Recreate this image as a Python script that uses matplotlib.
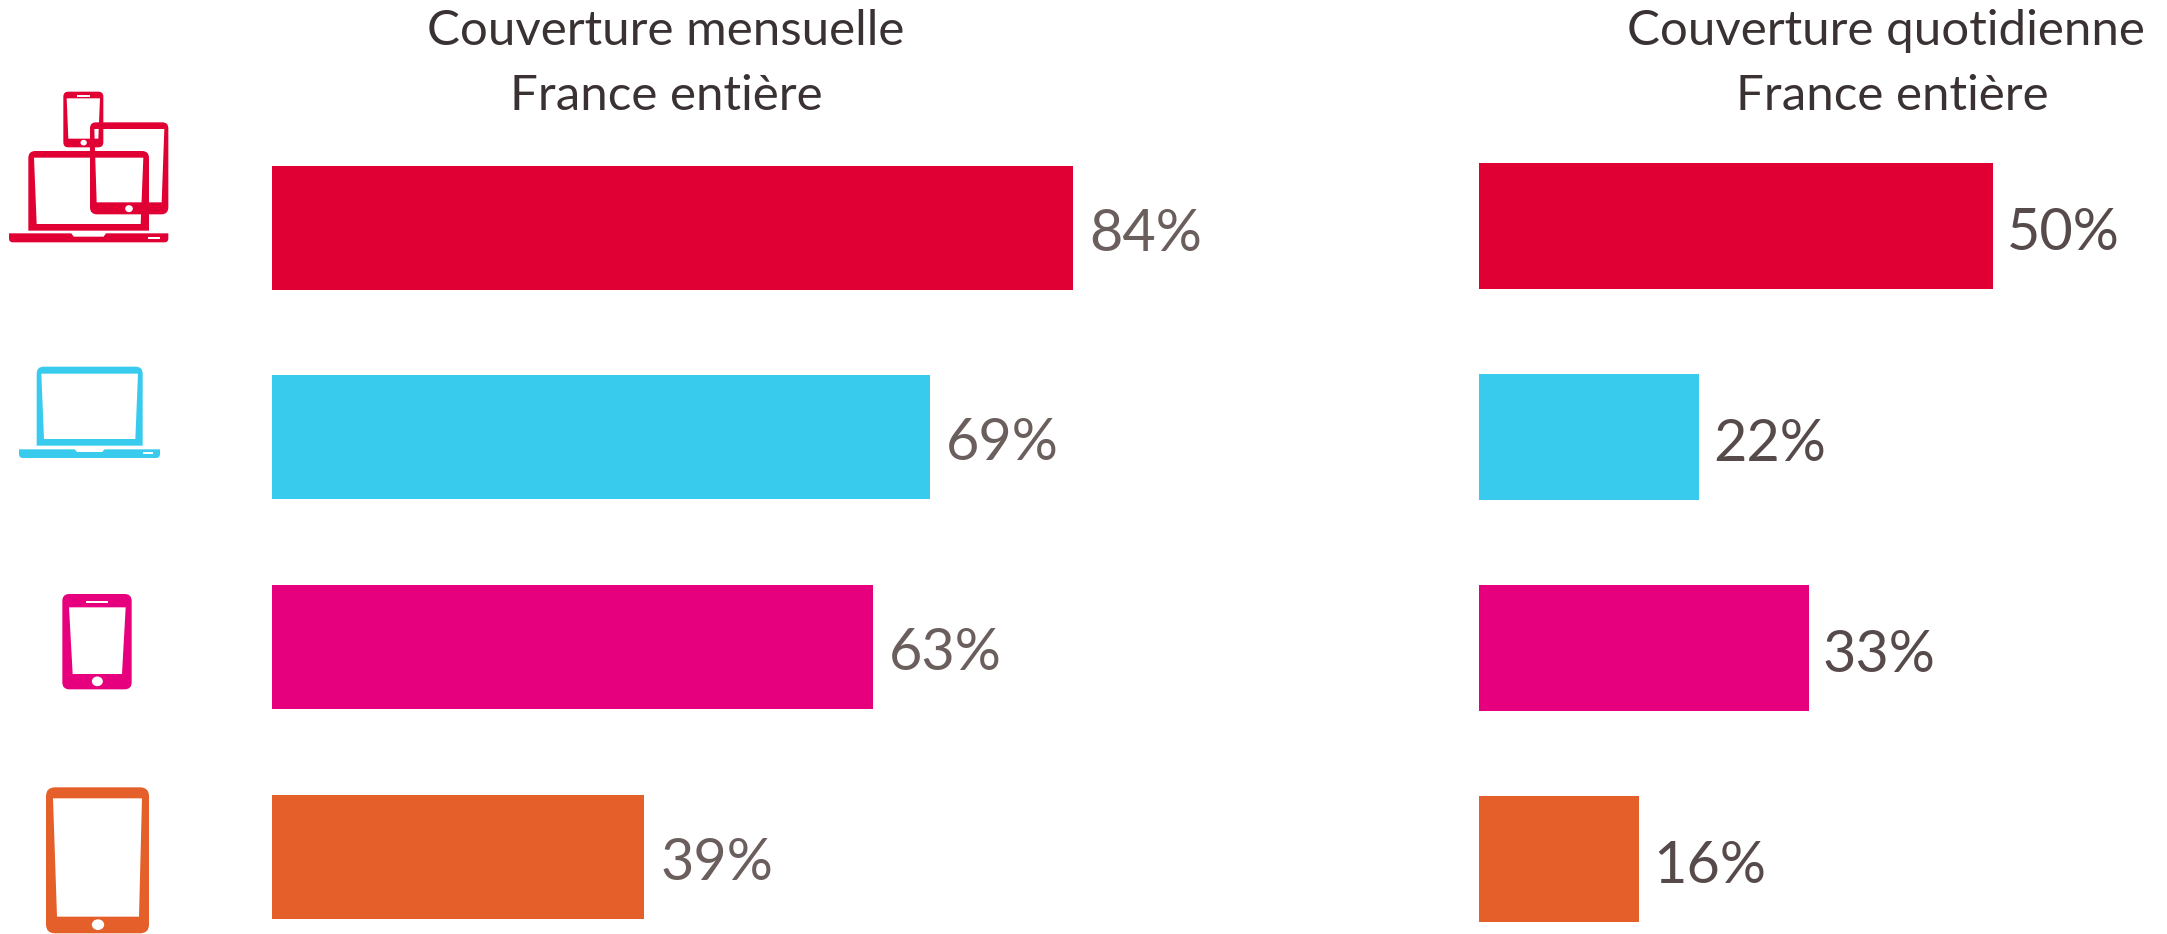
import matplotlib
matplotlib.use('Agg')
import matplotlib.pyplot as plt
from matplotlib.patches import PathPatch, Ellipse, Rectangle, Polygon
from matplotlib.path import Path

# Data
devices = ['Tous écrans', 'Ordinateur', 'Mobile', 'Tablette']
monthly_values = [84, 69, 63, 39]
# the drawn daily bar for 50% is a bit longer than the scale of the others
daily_lengths = [51.4, 22, 33, 16]
daily_labels = [50, 22, 33, 16]
bar_colors = ['#e00034', '#39cbed', '#e6007e', '#e55f2a']
monthly_title = ['Couverture mensuelle', 'France entière']
daily_title = ['Couverture quotidienne', 'France entière']

W, H = 2167, 934
plt.rcParams['font.family'] = ['Lato', 'DejaVu Sans']


def panel(fig, x0, px_per_pct, first_c, last_c, xmax, bar_h):
    """Axes in percent, placed from pixel positions; rows are 0..3."""
    step = (last_c - first_c) / 3
    top = first_c - step / 2
    bottom = last_c + step / 2
    ax = fig.add_axes([x0 / W, 1 - bottom / H, xmax * px_per_pct / W, (bottom - top) / H])
    ax.set_xlim(0, xmax)
    ax.set_ylim(3.5, -0.5)
    ax.axis('off')
    ax.patch.set_alpha(0)
    return ax, bar_h / step


def draw_bars(ax, lengths, labels, height, color_text, gap, base_off):
    ys = range(len(lengths))
    ax.barh(list(ys), lengths, height=height, color=bar_colors, linewidth=0)
    for y, l, lab in zip(ys, lengths, labels):
        ax.annotate(f'{lab}%', (l, y), xytext=(gap, -base_off), textcoords='offset pixels',
                    ha='left', va='baseline', fontsize=41.5, color=color_text)


def rrect(x0, y0, x1, y1, rt, rb):
    v = [(x0, y0 + rt), (x0, y0), (x0 + rt, y0), (x1 - rt, y0), (x1, y0), (x1, y0 + rt),
         (x1, y1 - rb), (x1, y1), (x1 - rb, y1), (x0 + rb, y1), (x0, y1), (x0, y1 - rb), (x0, y0 + rt)]
    c = [Path.MOVETO, Path.CURVE3, Path.CURVE3, Path.LINETO, Path.CURVE3, Path.CURVE3,
         Path.LINETO, Path.CURVE3, Path.CURVE3, Path.LINETO, Path.CURVE3, Path.CURVE3, Path.CLOSEPOLY]
    return Path(v, c)


def device(ov, ox, oy, outer, screen, color, rt=6, rb=6):
    # outer and screen are given in zoomed (3x) coordinates
    x0, y0, x1, y1 = [ox * (i % 2 == 0) + oy * (i % 2 == 1) + v / 3 for i, v in enumerate(outer)]
    tl, tr, bl, br = screen
    hole = [(ox + a / 3, oy + b / 3) for a, b in [(tl[0], tl[1]), (bl[0], bl[1]), (br[0], br[1]), (tr[0], tr[1]), (tl[0], tl[1])]]
    hole_path = Path(hole, [Path.MOVETO, Path.LINETO, Path.LINETO, Path.LINETO, Path.CLOSEPOLY])
    path = Path.make_compound_path(rrect(x0, y0, x1, y1, rt, rb), hole_path)
    ov.add_patch(PathPatch(path, facecolor=color, edgecolor='none'))


def base(ov, ox, oy, box, notch, button, color):
    x0, y0, x1, y1 = box
    ov.add_patch(PathPatch(rrect(ox + x0 / 3, oy + y0 / 3, ox + x1 / 3, oy + y1 / 3, 0.01, 4),
                           facecolor=color, edgecolor='none'))
    nx0, nx1, ny = notch
    ov.add_patch(Polygon([(ox + nx0 / 3, oy + y0 / 3 - 1), (ox + nx1 / 3, oy + y0 / 3 - 1),
                          (ox + nx1 / 3 - 3, oy + ny / 3), (ox + nx0 / 3 + 3, oy + ny / 3)],
                         facecolor='white', edgecolor='none'))
    bar(ov, ox, oy, button)


def bar(ov, ox, oy, b):
    x0, y0, x1, y1 = b
    ov.add_patch(Rectangle((ox + x0 / 3, oy + y0 / 3), (x1 - x0) / 3, (y1 - y0) / 3,
                           facecolor='white', edgecolor='none'))


def dot(ov, ox, oy, cx, cy, w, h):
    ov.add_patch(Ellipse((ox + cx / 3, oy + cy / 3), w / 3, h / 3, facecolor='white', edgecolor='none'))


def draw_icons(ov):
    red, cyan, pink, orange = bar_colors

    # phone + tablet + laptop group
    ox, oy = 0, 70
    device(ov, ox, oy, (190, 65, 310, 232), ((200, 85), (300, 85), (205, 206), (295, 206)), red, 5, 5)
    device(ov, ox, oy, (270, 157, 505, 433), ((283, 177), (493, 177), (290, 397), (485, 397)), red, 6, 7)
    device(ov, ox, oy, (85, 243, 447, 482), ((102, 263), (430, 263), (110, 462), (422, 462)), red, 7, 0.01)
    base(ov, ox, oy, (27, 490, 505, 517), (212, 320, 500), (445, 502, 480, 506), red)
    bar(ov, ox, oy, (232, 75, 270, 80))
    dot(ov, ox, oy, 251, 218, 19, 17)
    dot(ov, ox, oy, 387, 416, 23, 21)

    # laptop
    ox, oy = 0, 350
    device(ov, ox, oy, (110, 50, 428, 287), ((124, 71), (414, 71), (132, 267), (406, 267)), cyan, 7, 0.01)
    base(ov, ox, oy, (57, 298, 480, 324), (222, 316, 306), (428, 307, 460, 311), cyan)

    # phone
    ox, oy = 30, 580
    device(ov, ox, oy, (97, 42, 305, 328), ((117, 82), (287, 82), (128, 282), (276, 282)), pink, 7, 7)
    bar(ov, ox, oy, (168, 62, 235, 70))
    dot(ov, ox, oy, 202, 304, 33, 29)

    # tablet
    ox, oy = 30, 580
    device(ov, ox, oy, (48, 622, 357, 1060), ((69, 655), (336, 655), (81, 1010), (327, 1010)), orange, 9, 9)
    dot(ov, ox, oy, 204, 1034, 37, 32)


def main():
    fig = plt.figure(figsize=(W / 100, H / 100), dpi=100, facecolor='white')

    ax1, h1 = panel(fig, 272, 9.54, 227.7, 857, 90, 124)
    draw_bars(ax1, monthly_values, monthly_values, h1, '#6b5f5d', 16, 23)

    ax2, h2 = panel(fig, 1479, 10.0, 226, 859, 60, 126)
    draw_bars(ax2, daily_lengths, daily_labels, h2, '#564b4a', 14, 24)

    # pixel overlay for the device icons and the headings
    ov = fig.add_axes([0, 0, 1, 1])
    ov.set_xlim(0, W)
    ov.set_ylim(H, 0)
    ov.axis('off')
    ov.patch.set_alpha(0)
    draw_icons(ov)

    for text, y in zip(monthly_title, [45, 110]):
        ov.text(666, y, text, ha='center', va='baseline', fontsize=35.5, color='#3a3232')
    for text, x, y in zip(daily_title, [1886, 1892], [45, 110]):
        ov.text(x, y, text, ha='center', va='baseline', fontsize=35.5, color='#3a3232')

    fig.savefig('out.png', dpi=100)


if __name__ == "__main__":
    main()
